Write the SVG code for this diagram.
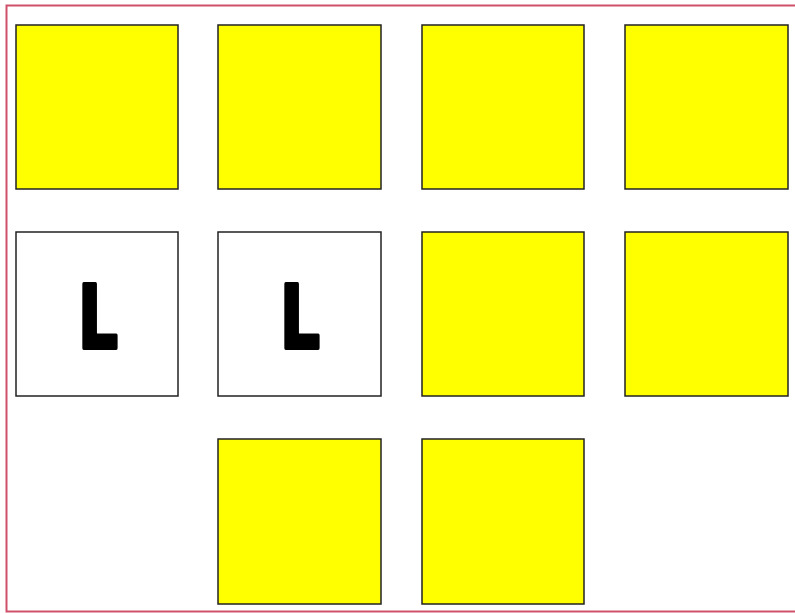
<svg xmlns="http://www.w3.org/2000/svg" width="795" height="613" viewBox="0 0 795 613">
<style>
.sq{stroke:#222;stroke-width:1.5}
.y{fill:#ffff00}
.w{fill:#ffffff}
.lbl{font-family:"DejaVu Sans",sans-serif;font-weight:bold;font-size:87px;fill:#000;stroke:#000;stroke-width:4;stroke-linejoin:round}
</style>
<rect x="0" y="0" width="795" height="613" fill="#fff"/>
<rect id="frame" x="6.5" y="5.5" width="800" height="606" fill="none" stroke="#d0506a" stroke-width="2"/>
<g id="n1"><rect class="sq y" x="16" y="25" width="162" height="164"/></g>
<g id="n2"><rect class="sq y" x="218" y="25" width="163" height="164"/></g>
<g id="n3"><rect class="sq y" x="422" y="25" width="162" height="164"/></g>
<g id="n4"><rect class="sq y" x="625" y="25" width="163" height="164"/></g>
<g id="n5"><rect class="sq w" x="16" y="232" width="162" height="164"/><text class="lbl" transform="translate(98,348) scale(0.72,1)" text-anchor="middle">L</text></g>
<g id="n6"><rect class="sq w" x="218" y="232" width="163" height="164"/><text class="lbl" transform="translate(300,348) scale(0.72,1)" text-anchor="middle">L</text></g>
<g id="n7"><rect class="sq y" x="422" y="232" width="162" height="164"/></g>
<g id="n8"><rect class="sq y" x="625" y="232" width="163" height="164"/></g>
<g id="n9"><rect class="sq y" x="218" y="439" width="163" height="165"/></g>
<g id="n10"><rect class="sq y" x="422" y="439" width="162" height="165"/></g>
<g id="connectors"></g>
</svg>
